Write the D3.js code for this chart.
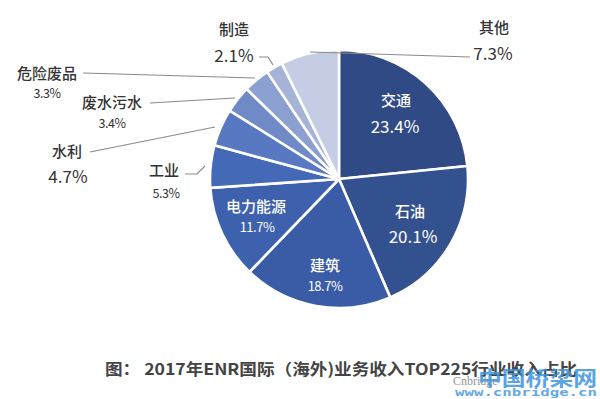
<!DOCTYPE html>
<html><head><meta charset="utf-8">
<script src="https://cdn.jsdelivr.net/npm/d3@7"></script>
<style>
html,body{margin:0;padding:0;background:#fff;}
svg{display:block;font-family:"Noto Sans CJK SC","Noto Sans",sans-serif;}
</style></head>
<body>
<svg id="chart" width="600" height="399"></svg>
<script>
const categories = ["交通","石油","建筑","电力能源","工业","水利","废水污水","危险废品","制造","其他"];
const values = [23.4, 20.1, 18.7, 11.7, 5.3, 4.7, 3.4, 3.3, 2.1, 7.3];
const valueLabels = ["23.4%","20.1%","18.7%","11.7%","5.3%","4.7%","3.4%","3.3%","2.1%","7.3%"];
const colors = ["#2f4a84","#34518f","#3a5ca7","#3d61ad","#4469b7","#5878c1","#7089c7","#8b9fd0","#a5b3d9","#c5cde4"];
const title = "图： 2017年ENR国际（海外)业务收入TOP225行业收入占比";

const svg = d3.select("#chart");
const cx = 339, cy = 179, r = 129;
const g = svg.append("g").attr("transform", `translate(${cx},${cy})`);

const pie = d3.pie().sort(null).value(d => d)(values);
const arc = d3.arc().innerRadius(0).outerRadius(r);

g.selectAll("path").data(pie).join("path")
  .attr("d", arc)
  .attr("fill", (d,i) => colors[i])
  .attr("stroke", "#fff").attr("stroke-width", 2.6).attr("stroke-linejoin","round");

const inside = {
  0: {nx:396, ny:106, vx:395, vy:133, ns:15, vs:17},
  1: {nx:410, ny:217, vx:413, vy:243, ns:15, vs:17},
  2: {nx:325, ny:271, vx:325, vy:291, ns:15, vs:13},
  3: {nx:256, ny:212, vx:257, vy:232, ns:15, vs:13}
};
Object.keys(inside).forEach(k => {
  const o = inside[k], i = +k;
  svg.append("text").attr("x", o.nx).attr("y", o.ny).attr("text-anchor","middle")
    .attr("font-size", o.ns).attr("font-weight", 500).attr("fill","#fff").text(categories[i]);
  svg.append("text").attr("x", o.vx).attr("y", o.vy).attr("text-anchor","middle")
    .attr("font-size", o.vs).attr("fill","#fff")
    .attr("letter-spacing", o.vs < 14 ? -0.5 : 0).text(valueLabels[i]);
});

const outside = {
  4: {nx:164, ny:176, vx:166, vy:198, vs:12.5, line:[[185,174],[197,174],[205,166]]},
  5: {nx:67,  ny:157, vx:68,  vy:183, vs:17, line:[[90,152],[215,127]]},
  6: {nx:112, ny:108, vx:112, vy:128, vs:12.5, line:[[150,103],[235,98]]},
  7: {nx:47,  ny:79,  vx:47,  vy:98,  vs:12.5, line:[[83,73],[255,78]]},
  8: {nx:234, ny:35,  vx:234, vy:62,  vs:17, line:[[259,57],[268,57],[273,65]]},
  9: {nx:494, ny:33,  vx:493, vy:60,  vs:17, line:[[310,52],[470,57]]}
};
const line = d3.line();
Object.keys(outside).forEach(k => {
  const o = outside[k], i = +k;
  svg.append("path").attr("d", line(o.line)).attr("fill","none")
    .attr("stroke","#8a8a8a").attr("stroke-width",1.2);
  svg.append("text").attr("x", o.nx).attr("y", o.ny).attr("text-anchor","middle")
    .attr("font-size", 15).attr("font-weight", 500).attr("fill","#333").text(categories[i]);
  svg.append("text").attr("x", o.vx).attr("y", o.vy).attr("text-anchor","middle")
    .attr("font-size", o.vs).attr("fill","#333")
    .attr("letter-spacing", o.vs < 14 ? -0.5 : 0).text(valueLabels[i]);
});

svg.append("text").attr("x", 105).attr("y", 375)
  .attr("font-size", 16).attr("font-weight", "bold").attr("fill", "#444")
  .attr("textLength", 472).attr("lengthAdjust","spacingAndGlyphs")
  .text(title);

// watermark
svg.append("text").attr("x", 453).attr("y", 385).attr("font-family","Liberation Serif, serif")
  .attr("font-size", 12).attr("fill", "#8a8a8a").attr("opacity",0.9).text("Cnbridge");
svg.append("text").attr("x", 478).attr("y", 386)
  .attr("font-size", 20).attr("font-weight","bold").attr("fill","#3f93dc").attr("opacity",0.85)
  .attr("textLength", 119).attr("lengthAdjust","spacingAndGlyphs").text("中国桥梁网");
svg.append("text").attr("x", 455).attr("y", 396).attr("font-family","DejaVu Sans Mono, monospace")
  .attr("font-size", 11).attr("font-weight","bold").attr("fill","#4a9be0").attr("opacity",0.85)
  .attr("textLength", 142).attr("lengthAdjust","spacingAndGlyphs").text("www.cnbridge.cn");
</script>
</body></html>
